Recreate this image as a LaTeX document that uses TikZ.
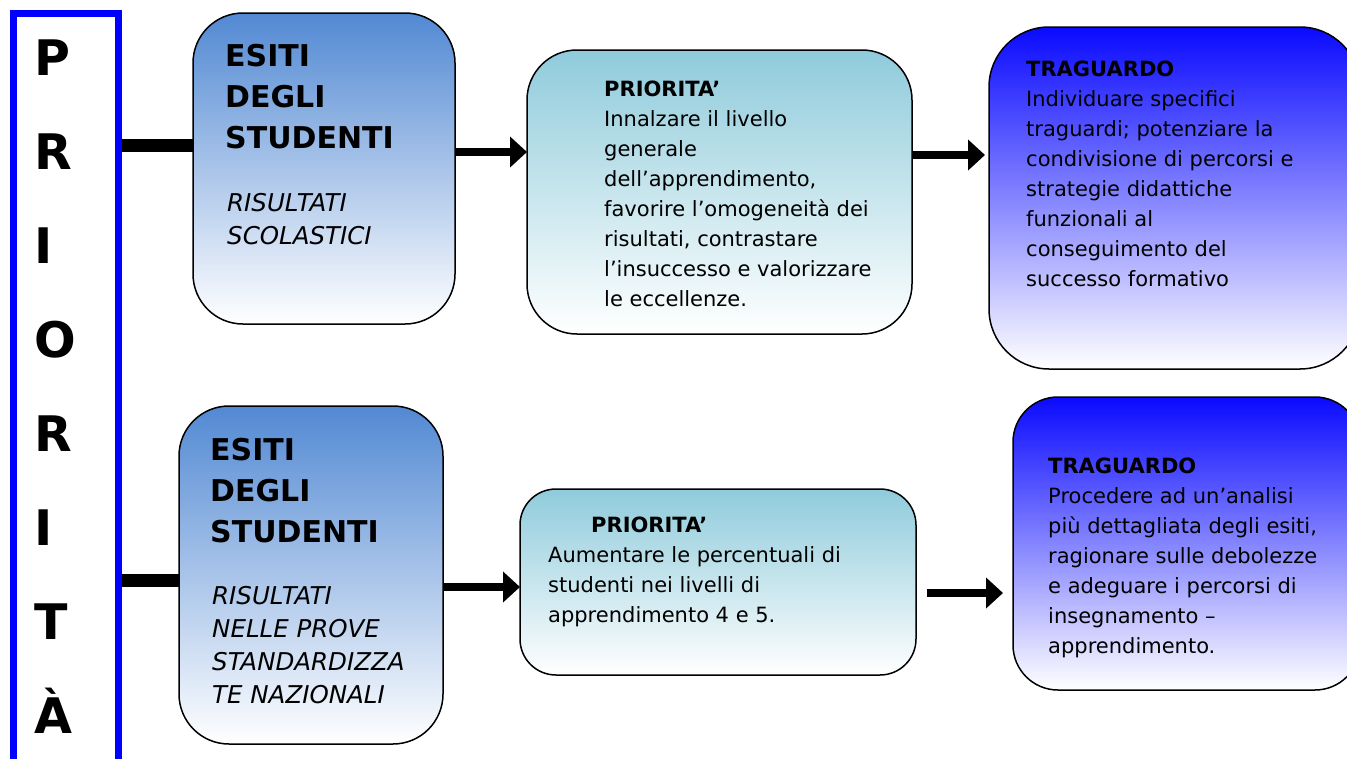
\documentclass[tikz,border=0pt]{standalone}
\usepackage{fontspec}
\setmainfont{DejaVu Sans}
\usetikzlibrary{arrows.meta}
\definecolor{c1top}{HTML}{5289D3}
\definecolor{c2top}{HTML}{8FCBDB}
\definecolor{c3top}{HTML}{0A0AFF}
\begin{document}
\begin{tikzpicture}[x=1pt,y=-1pt,
  box/.style={draw=black, line width=1.5pt, rounded corners=#1, inner sep=0pt, outer sep=0pt, bottom color=white},
  txt/.style={inner sep=0pt, anchor=base west, align=left, font=\fontsize{21}{30}\selectfont},
  big/.style={inner sep=0pt, anchor=base west, align=left, font=\fontsize{30}{41}\selectfont\bfseries},
  ital/.style={inner sep=0pt, anchor=base west, align=left, font=\fontsize{24.5}{33}\selectfont\itshape},
  link/.style={line width=13pt},
  arr/.style={line width=8pt, -{Triangle[length=17pt,width=30pt]}}
]
\useasboundingbox (0,0) rectangle (1347,758);
\clip (0,0) rectangle (1347,758);

% vertical frame
\node[draw=blue, line width=7pt, minimum width=105pt, minimum height=800pt, inner sep=0pt] (frame) at (66,413.5) {};
% (base anchor = baseline of the last line)
\node[inner sep=0pt, anchor=base west, align=left, font=\fontsize{49}{94}\selectfont\bfseries] (vert) at (34.5,733) {P\\R\\I\\O\\R\\I\\T\\À};

% boxes
\node[box=50pt, top color=c1top, minimum width=262pt, minimum height=311pt] (b1) at (324,168.5) {};
\node[box=50pt, top color=c2top, minimum width=385pt, minimum height=284pt] (b2) at (719.5,192) {};
\node[box=60pt, top color=c3top, minimum width=371pt, minimum height=342pt] (b3) at (1174.5,198) {};
\node[box=50pt, top color=c1top, minimum width=264pt, minimum height=338pt] (b4) at (311,575) {};
\node[box=36pt, top color=c2top, minimum width=396pt, minimum height=186pt] (b5) at (718,582) {};
\node[box=45pt, top color=c3top, minimum width=347pt, minimum height=293pt] (b6) at (1186.5,543.5) {};

% texts
\node[big] (t1a) at (225,148) {ESITI\\DEGLI\\STUDENTI};
\node[ital] (t1b) at (227,244) {RISULTATI\\SCOLASTICI};
\node[txt] (t2) at (604,306) {\textbf{PRIORITA’}\\Innalzare il livello\\generale\\dell’apprendimento,\\favorire l’omogeneità dei\\risultati, contrastare\\l’insuccesso e valorizzare\\le eccellenze.};
\node[txt] (t3) at (1026,286) {\textbf{TRAGUARDO}\\Individuare specifici\\traguardi; potenziare la\\condivisione di percorsi e\\strategie didattiche\\funzionali al\\conseguimento del\\successo formativo};
\node[big] (t4a) at (210,542) {ESITI\\DEGLI\\STUDENTI};
\node[ital] (t4b) at (212,703) {RISULTATI\\NELLE PROVE\\STANDARDIZZA\\TE NAZIONALI};
\node[txt] (t5) at (548,622) {\hspace*{43pt}\textbf{PRIORITA’}\\Aumentare le percentuali di\\studenti nei livelli di\\apprendimento 4 e 5.};
\node[txt] (t6) at (1048,653) {\textbf{TRAGUARDO}\\Procedere ad un’analisi\\più dettagliata degli esiti,\\ragionare sulle debolezze\\e adeguare i percorsi di\\insegnamento –\\apprendimento.};

% connectors
\coordinate (ya) at (0,145);
\coordinate (yb) at (0,152);
\coordinate (yc) at (0,155);
\coordinate (yd) at (0,580);
\coordinate (ye) at (0,587);
\coordinate (yf) at (0,593);
\draw[link] (frame.east |- ya) -- (b1.west |- ya);
\draw[arr] (b1.east |- yb) -- (b2.west |- yb);
\draw[arr, shorten >=4pt] (b2.east |- yc) -- (b3.west |- yc);
\draw[link] (frame.east |- yd) -- (b4.west |- yd);
\draw[arr] (b4.east |- ye) -- (b5.west |- ye);
\draw[arr, shorten <=11pt, shorten >=10pt] (b5.east |- yf) -- (b6.west |- yf);
\end{tikzpicture}
\end{document}
